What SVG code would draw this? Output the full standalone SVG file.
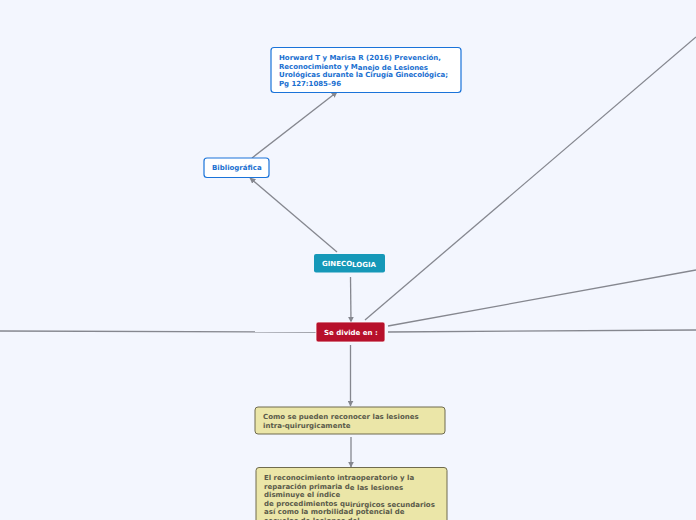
<svg xmlns="http://www.w3.org/2000/svg" width="696" height="520" viewBox="0 0 696 520">
<defs>
<style>
.t{font-family:"DejaVu Sans","Liberation Sans",sans-serif;font-weight:bold;font-size:7px}
.blue{fill:#1a6fd0}
.white{fill:#ffffff}
.dark{fill:#5a5a4a}
.c{stroke:#85878f;stroke-width:1.3;fill:none}
.bx{fill:#ffffff;stroke:#1a73d9;stroke-width:1.2}
.kh{fill:#ebe6a8;stroke:#6f6b4e;stroke-width:1}
</style>
<marker id="ar" viewBox="0 0 10 10" refX="9" refY="5" markerWidth="6" markerHeight="6" orient="auto" markerUnits="userSpaceOnUse">
<path d="M0,0 L10,5 L0,10 z" fill="#85878f"/>
</marker>
</defs>
<rect width="696" height="520" fill="#f3f6fe"/>
<g id="connectors">
<line class="c" x1="337" y1="252" x2="250" y2="178" marker-end="url(#ar)"/>
<line class="c" x1="252" y1="158" x2="337" y2="92" marker-end="url(#ar)"/>
<line class="c" x1="350.5" y1="277" x2="351" y2="322" marker-end="url(#ar)"/>
<line class="c" x1="350.5" y1="345" x2="350.5" y2="406" marker-end="url(#ar)"/>
<line class="c" x1="351" y1="437" x2="351" y2="467" marker-end="url(#ar)"/>
<line class="c" x1="365" y1="320" x2="696" y2="37"/>
<line class="c" x1="388" y1="326" x2="696" y2="270"/>
<line class="c" x1="388" y1="332" x2="696" y2="330"/>
<line class="c" x1="0" y1="331" x2="316" y2="332"/>
</g>
<g id="ref">
<rect class="bx" x="271" y="47.5" width="190" height="45" rx="3"/>
<text class="t blue" x="279" y="60" textLength="162" lengthAdjust="spacing">Horward T y Marisa R (2016) Prevención,</text>
<text class="t blue" x="279" y="68.5" textLength="149" lengthAdjust="spacing">Reconocimiento y M<tspan dy="1">anejo de Lesiones</tspan></text>
<text class="t blue" x="279" y="77" textLength="169" lengthAdjust="spacing">Urológicas durante la Cirugía Ginecológica;</text>
<text class="t blue" x="279" y="85.5" textLength="62" lengthAdjust="spacing">Pg 127:1085–96</text>
</g>
<g id="biblio">
<rect class="bx" x="204" y="158" width="65" height="19.5" rx="3"/>
<text class="t blue" x="212" y="170">Bibliográfica</text>
</g>
<g id="gineco">
<rect x="314" y="254" width="71" height="18.5" rx="2" fill="#1598b8"/>
<text class="t white" x="322" y="265.5">GINECO<tspan dy="1">LOGIA</tspan></text>
</g>
<g id="divide">
<rect x="316" y="322" width="69" height="20" rx="2" fill="#b7102b" stroke="#ffffff" stroke-width="0.8"/>
<text class="t white" x="324" y="334.5">Se divide en :</text>
</g>
<g id="reconocer">
<rect class="kh" x="255" y="407" width="190" height="27" rx="3"/>
<text class="t dark" x="263" y="419">Como se pueden reconocer las lesiones</text>
<text class="t dark" x="263" y="427.5">intra-quirurgicamente</text>
</g>
<g id="reconocimiento">
<rect class="kh" x="256" y="467.5" width="191" height="70" rx="3"/>
<text class="t dark" x="264" y="480">El reconocimiento intraoperatorio y la</text>
<text class="t dark" x="264" y="488.5">reparación primaria d<tspan dy="1">e las lesiones</tspan></text>
<text class="t dark" x="264" y="497">disminuye el índice</text>
<text class="t dark" x="264" y="505.5">de procedimientos qu<tspan dy="1">irúrgicos secundarios</tspan></text>
<text class="t dark" x="264" y="514">así como la morbilidad potencial de</text>
<text class="t dark" x="264" y="522.5">secuelas de lesiones del</text>
</g>
</svg>
